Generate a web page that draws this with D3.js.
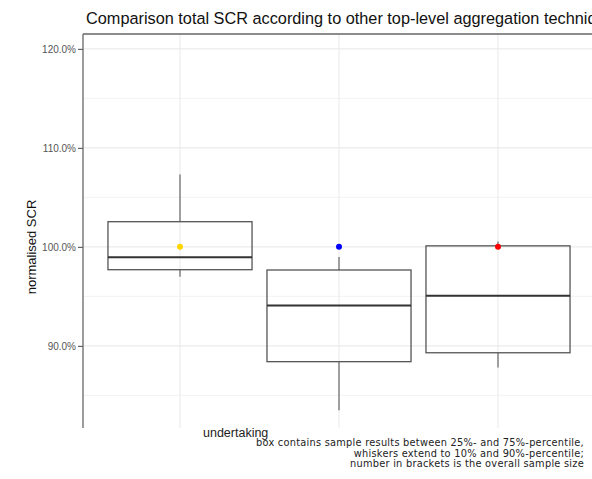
<!DOCTYPE html>
<html><head><meta charset="utf-8">
<script src="https://cdn.jsdelivr.net/npm/d3@7"></script>
<style>body{margin:0;background:#fff}svg{display:block;font-family:"Liberation Sans",Arial,sans-serif}</style>
</head><body><svg id="c" width="592" height="479"></svg>
<script>
const categories = ["method 1", "method 2", "method 3"];
const whiskerLow = [96.98, 83.5, 87.8];
const q25 = [97.69, 88.4, 89.3];
const median = [98.95, 94.07, 95.05];
const q75 = [102.54, 97.66, 100.1];
const whiskerHigh = [107.3, 98.98, 100.54];
const refPoint = [100, 100, 100];
const pointColors = ["#FFD700", "#0000FF", "#FF0000"];
const yTicks = [90, 100, 110, 120];
const yMinor = [85, 95, 105, 115];
const titleText = "Comparison total SCR according to other top-level aggregation techniques";
const xTitle = "undertaking";
const yTitle = "normalised SCR";
const caption = ["box contains sample results between 25%- and 75%-percentile,",
  "whiskers extend to 10% and 90%-percentile;",
  "number in brackets is the overall sample size"];

const svg = d3.select("#c");
const L = 83, T = 34, B = 428, R = 660;
const y = d3.scaleLinear().domain([81.7, 121.5]).range([B, T]);
const x = d3.scaleBand().domain(categories).range([100.5, 577.5]).paddingInner(0.094).paddingOuter(0.047);
const cx = d => x(d) + x.bandwidth() / 2;

// grid
const g = svg.append("g");
g.selectAll(".ymin").data(yMinor).join("line")
  .attr("x1", L).attr("x2", R).attr("y1", d => y(d)).attr("y2", d => y(d))
  .attr("stroke", "#f2f2f2").attr("stroke-width", 1);
g.selectAll(".ymaj").data(yTicks).join("line")
  .attr("x1", L).attr("x2", R).attr("y1", d => y(d)).attr("y2", d => y(d))
  .attr("stroke", "#ebebeb").attr("stroke-width", 1.1);
g.selectAll(".xmaj").data(categories).join("line")
  .attr("x1", d => cx(d)).attr("x2", d => cx(d)).attr("y1", T).attr("y2", B)
  .attr("stroke", "#ebebeb").attr("stroke-width", 1.1);

// y axis
const yAxis = d3.axisLeft(y).tickValues(yTicks).tickSize(5).tickPadding(2)
  .tickFormat(d => d3.format(".1f")(d) + "%");
const ya = svg.append("g").attr("transform", `translate(${L},0)`).call(yAxis);
ya.select(".domain").remove();
ya.selectAll(".tick line").attr("stroke", "#444");
ya.selectAll(".tick text").attr("fill", "#555").attr("font-size", 10)
  .attr("font-family", '"Liberation Sans",Arial,sans-serif');

// panel border (top and left)
svg.append("line").attr("x1", L).attr("x2", R).attr("y1", T).attr("y2", T)
  .attr("stroke", "#666").attr("stroke-width", 1.3);
svg.append("line").attr("x1", L).attr("x2", L).attr("y1", T).attr("y2", B)
  .attr("stroke", "#666").attr("stroke-width", 1.3);

// boxes
const data = categories.map((c, i) => ({c, lo: whiskerLow[i], q1: q25[i], md: median[i], q3: q75[i], hi: whiskerHigh[i], p: refPoint[i], col: pointColors[i]}));
const bx = svg.append("g").selectAll("g").data(data).join("g");
bx.append("line").attr("x1", d => cx(d.c)).attr("x2", d => cx(d.c))
  .attr("y1", d => y(d.hi)).attr("y2", d => y(d.q3)).attr("stroke", "#666").attr("stroke-width", 1.2);
bx.append("line").attr("x1", d => cx(d.c)).attr("x2", d => cx(d.c))
  .attr("y1", d => y(d.q1)).attr("y2", d => y(d.lo)).attr("stroke", "#666").attr("stroke-width", 1.2);
bx.append("rect").attr("x", d => x(d.c)).attr("width", x.bandwidth())
  .attr("y", d => y(d.q3)).attr("height", d => y(d.q1) - y(d.q3))
  .attr("fill", "none").attr("stroke", "#555").attr("stroke-width", 1.3);
bx.append("line").attr("x1", d => x(d.c)).attr("x2", d => x(d.c) + x.bandwidth())
  .attr("y1", d => y(d.md)).attr("y2", d => y(d.md)).attr("stroke", "#333").attr("stroke-width", 2);
bx.append("circle").attr("cx", d => cx(d.c)).attr("cy", d => y(d.p)).attr("r", 3)
  .attr("fill", d => d.col);

// texts
svg.append("text").attr("x", 86).attr("y", 24).attr("font-size", 16.3).attr("fill", "#111")
  .text(titleText);
svg.append("text").attr("transform", "translate(36,247) rotate(-90)").attr("text-anchor", "middle")
  .attr("font-size", 13).attr("fill", "#111").text(yTitle);
svg.append("text").attr("x", 203).attr("y", 437).attr("font-size", 12.5).attr("fill", "#222").text(xTitle);
svg.append("g").selectAll("text").data(caption).join("text")
  .attr("x", 584).attr("y", (d, i) => 446 + i * 10.5).attr("text-anchor", "end")
  .attr("font-family", '"DejaVu Sans",sans-serif').attr("letter-spacing", 0.25)
  .attr("font-size", 9.8).attr("fill", "#222").text(d => d);
</script></body></html>
